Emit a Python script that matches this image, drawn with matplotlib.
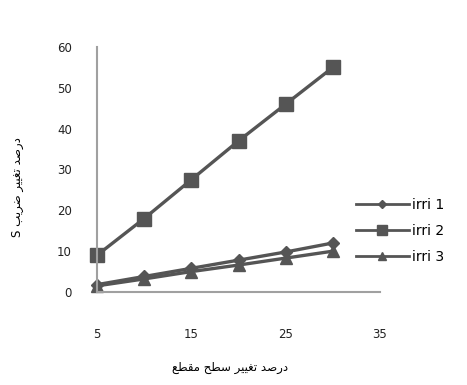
import matplotlib
matplotlib.use("Agg")
import matplotlib.pyplot as plt

# percent change in cross-section area
area_change = [5, 10, 15, 20, 25, 30]

# percent change in S coefficient per irrigation
irri_1 = [1.8, 3.8, 5.8, 7.8, 9.8, 12.0]
irri_2 = [9.0, 18.0, 27.5, 37.0, 46.0, 55.0]
irri_3 = [1.5, 3.2, 5.0, 6.6, 8.3, 10.0]

series_names = ["irri 1", "irri 2", "irri 3"]

x_ticks = [5, 15, 25, 35]
y_ticks = [0, 10, 20, 30, 40, 50, 60]


def shape_rtl(forms):
    # forms are Arabic presentation-form glyphs in logical order
    return "".join(reversed(forms))


# "درصد تغییر سطح مقطع"
x_label = shape_rtl([
    "\uFEA9", "\uFEAD", "\uFEBB", "\uFEAA", " ",
    "\uFE97", "\uFED0", "\uFEF4", "\uFEF4", "\uFEAE", " ",
    "\uFEB3", "\uFEC4", "\uFEA2", " ",
    "\uFEE3", "\uFED8", "\uFEC4", "\uFECA",
])
# "درصد تغییر ضریب S"
y_label = "S " + shape_rtl([
    "\uFEA9", "\uFEAD", "\uFEBB", "\uFEAA", " ",
    "\uFE97", "\uFED0", "\uFEF4", "\uFEF4", "\uFEAE", " ",
    "\uFEBF", "\uFEAE", "\uFEF3", "\uFE90",
])

line_color = "#555555"
axis_color = "#a0a0a0"

fig = plt.figure(figsize=(4.67, 3.85), dpi=100)
ax = fig.add_axes([97 / 467, 93 / 385, 283 / 467, 245 / 385])

ax.plot(area_change, irri_1, color=line_color, lw=2.4, marker="D", ms=6,
        label=series_names[0])
ax.plot(area_change, irri_2, color=line_color, lw=2.4, marker="s", ms=10,
        label=series_names[1])
ax.plot(area_change, irri_3, color=line_color, lw=2.4, marker="^", ms=8,
        label=series_names[2])

ax.set_xlim(5, 35)
ax.set_ylim(0, 60)
ax.set_xticks(x_ticks)
ax.set_yticks(y_ticks)
ax.tick_params(length=0, labelsize=8.5, colors="#222222")
ax.tick_params(axis="x", pad=26)
ax.tick_params(axis="y", pad=18)

for side in ["top", "right"]:
    ax.spines[side].set_visible(False)
for side in ["left", "bottom"]:
    ax.spines[side].set_color(axis_color)
    ax.spines[side].set_linewidth(1.5)

for line in ax.get_lines():
    line.set_clip_on(False)

leg = fig.legend(loc="upper left", bbox_to_anchor=(356 / 467, 1 - 198 / 385),
                 frameon=False, fontsize=10, handlelength=3.8,
                 handletextpad=0.25, labelspacing=0.85, borderpad=0,
                 borderaxespad=0, markerscale=0.75)
for handle in leg.legend_handles:
    handle.set_linewidth(2.0)

fig.text(230 / 467, 1 - 367 / 385, x_label, ha="center", va="center",
         fontsize=8.5, family="DejaVu Sans")
fig.text(18 / 467, 1 - 187 / 385, y_label, ha="center", va="center",
         rotation=90, fontsize=8.5, family="DejaVu Sans")

fig.savefig("out.png", dpi=100)
